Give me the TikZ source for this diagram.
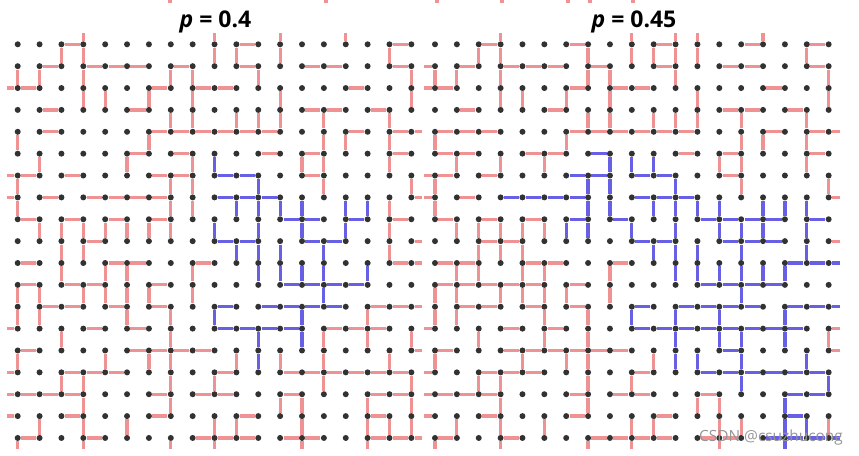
\documentclass[tikz,border=0pt]{standalone}
\usepackage{fontspec}
\setmainfont{Open Sans}

\definecolor{edgered}{RGB}{238,146,148}
\definecolor{edgeblue}{RGB}{104,96,228}
\definecolor{dotgray}{RGB}{50,50,50}
\definecolor{markgray}{RGB}{150,150,150}

\begin{document}
\begin{tikzpicture}[
    x=0.5pt, y=-0.5pt,
    dot/.style   = {circle, fill=dotgray, inner sep=0pt, minimum size=3pt},
    redge/.style = {draw=edgered, line width=1.6pt},
    bedge/.style = {draw=edgeblue, line width=1.6pt},
    title/.style = {font=\fontsize{11.5}{14}\selectfont\bfseries, anchor=base},
    wmark/.style = {font=\fontsize{7.7}{9}\selectfont, text=markgray}
]
\useasboundingbox (0,0) rectangle (859,456);

% Lattice sites (the outer ring is the cut edge of each panel)
\foreach \P/\xo in {L/17.7, R/435}{
  \foreach \c in {-1,...,19}{
    \foreach \r in {-1,...,19}{
      \pgfmathsetmacro\px{\xo+21.87*max(-0.5,min(18.5,\c))}
      \pgfmathsetmacro\py{44.3+21.87*max(-0.5,min(18.5,\r))}
      \pgfmathtruncatemacro\inside{(\c>=0)&&(\c<=18)&&(\r>=0)&&(\r<=18)}
      \ifnum\inside=1
        \node[dot] (\P-c\c-r\r) at (\px,\py) {};
      \else
        \coordinate (\P-c\c-r\r) at (\px,\py);
      \fi
    }
  }
}

% Left panel, horizontal bonds (row/columns)
\foreach \r/\cs in {0/{2,10,17}, 1/{1,3,4,5,7,10,13,14,17}, 2/{-1,0,6,8,9,15},
    3/{1,5,13,14,16}, 4/{1,6,7,8,9,10,11,15,17,18}, 5/{5,7,11,13,17},
    6/{-1,0,2,6,7,13}, 7/{-1,1,3,4,5,6,18}, 8/{0,2,4,6,17}, 9/{3,18},
    10/{0,4,5,8,17,18}, 11/{0,2,3,6}, 12/{1,2,4,6,16,17,18},
    13/{-1,3,5,14,15,16}, 14/{0,5,6,7,8,18},
    15/{-1,2,3,4,9,12,13,14,15,16,17}, 16/{-1,0,1,2,6,8,9,12,16,17},
    17/{-1,2,6,10,16}, 18/{0,3,8,9,10,12,13,16,17,18}}{
  \foreach \c in \cs {
    \pgfmathtruncatemacro\n{\c+1}
    \draw[redge] (L-c\c-r\r) -- (L-c\n-r\r);
  }
}
\foreach \r/\cs in {6/{9,10}, 7/{9,10,11}, 8/{12,13,15}, 9/{9,10,13,14},
    11/{12,13,14,15}, 12/{9,11,12,13,14}, 13/{9,10,11,12}}{
  \foreach \c in \cs {
    \pgfmathtruncatemacro\n{\c+1}
    \draw[bedge] (L-c\c-r\r) -- (L-c\n-r\r);
  }
}

% Left panel, vertical bonds (column/rows)
\foreach \c/\rs in {0/{1,4,6,7,11,12,14,18}, 1/{1,5,8,11,12,17},
    2/{0,8,9,10,13,15}, 3/{-1,0,1,2,8,9,11,15,16,17,18}, 4/{2,8,10,11,14},
    5/{5,8,10,11,12,17}, 6/{2,4,8,11,14}, 7/{1,3,6,7,8,12,13,14,15,16,18},
    8/{1,2,3,5,6,7,10,11}, 9/{-1,0,15,17,18}, 10/{0,3,14,17}, 11/{1,3},
    12/{-1,0,2,3,14,16}, 13/{5,16,17,18}, 14/{3,4,5,6,13,14,15},
    15/{-1,4}, 16/{12,13,16,17,18}, 17/{0,3,4,5,7,8,9,14,17},
    18/{1,2,6,13,15,16,17}}{
  \foreach \r in \rs {
    \pgfmathtruncatemacro\n{\r+1}
    \draw[redge] (L-c\c-r\r) -- (L-c\c-r\n);
  }
}
\foreach \c/\rs in {9/{5,8,12}, 10/{7,9}, 11/{6,7,8,9,10,13,14}, 12/{7,9,10},
    13/{7,8,10,12,13}, 14/{9,10,11}, 15/{7,8}, 16/{7,10}}{
  \foreach \r in \rs {
    \pgfmathtruncatemacro\n{\r+1}
    \draw[bedge] (L-c\c-r\r) -- (L-c\c-r\n);
  }
}

% Right panel, horizontal bonds
\foreach \r/\cs in {0/{2,6,10,14,17}, 1/{-1,1,3,4,5,7,10,13,14,17},
    2/{-1,0,6,8,9,15}, 3/{1,5,13,14,16}, 4/{0,1,2,6,7,8,9,10,11,15,17,18},
    5/{0,1,4,5,11,13,17}, 6/{-1,0,2,13}, 7/{-1,1,18}, 8/{0,2,4},
    9/{2,3,18}, 10/{0,1,4,5,8}, 11/{0,1,2,3,4,6}, 12/{1,2,4,6},
    13/{-1,3,5,18}, 14/{0,3,4,5,6,7,8,18}, 15/{-1,2,3,4,9},
    16/{-1,0,1,2,6,8,9,12}, 17/{-1,2,6,10}, 18/{0,3,7,8,9,10,12,13}}{
  \foreach \c in \cs {
    \pgfmathtruncatemacro\n{\c+1}
    \draw[redge] (R-c\c-r\r) -- (R-c\n-r\r);
  }
}
\foreach \r/\cs in {5/{7}, 6/{6,7,9,10}, 7/{3,4,5,6,9,10,11},
    8/{6,8,12,13,14,15,17}, 9/{9,10,13,14,15}, 10/{16,17,18},
    11/{12,13,14,15}, 12/{9,11,12,13,14,16,17,18},
    13/{9,10,11,12,13,14,15,16}, 14/{13}, 15/{12,13,14,15,16,17},
    16/{16,17}, 17/{16}, 18/{15,16,17,18}}{
  \foreach \c in \cs {
    \pgfmathtruncatemacro\n{\c+1}
    \draw[bedge] (R-c\c-r\r) -- (R-c\n-r\r);
  }
}

% Right panel, vertical bonds
\foreach \c/\rs in {0/{1,4,6,7,11,12,14,18}, 1/{1,5,8,10,11,12,17},
    2/{0,8,9,10,13,15}, 3/{-1,0,1,2,5,8,9,11,15,16,17,18},
    4/{2,8,9,10,11,14}, 5/{5,8,10,11,12,13,17}, 6/{2,4,11,14},
    7/{0,1,3,12,13,14,15,16,18}, 8/{1,2,3,10,11}, 9/{-1,0,15,17,18},
    10/{0,3,14,17}, 11/{-1,0,1,3}, 12/{-1,0,2,3,16}, 13/{5,16,17,18},
    14/{3,4,5,6,17}, 15/{-1,4}, 17/{0,3,4,5}, 18/{1,2,6,13,17}}{
  \foreach \r in \rs {
    \pgfmathtruncatemacro\n{\r+1}
    \draw[redge] (R-c\c-r\r) -- (R-c\c-r\n);
  }
}
\foreach \c/\rs in {6/{8}, 7/{6,7,8}, 8/{5,6,7}, 9/{5,8,12}, 10/{5,7,9},
    11/{6,7,8,9,10,12,13,14}, 12/{7,9,10,14}, 13/{7,8,10,12,13},
    14/{8,9,10,11,13,14,15}, 15/{7,8,10}, 16/{7,10,12,13,16,17,18},
    17/{7,8,9,14,17}, 18/{15}}{
  \foreach \r in \rs {
    \pgfmathtruncatemacro\n{\r+1}
    \draw[bedge] (R-c\c-r\r) -- (R-c\c-r\n);
  }
}

% Ends of bonds from the figure above
\foreach \x [count=\i] in {170,326,437,502,568,590,633}{
  \coordinate (top\i) at (\x,0);
  \draw[redge] (top\i) -- ++(0,2.5);
}

% Titles and watermark
\node[title] (pL) at (215.5,27) {{\itshape p} = 0.4};
\node[title] (pR) at (634,27) {{\itshape p} = 0.45};
\node[wmark] (csdn) at (771,437) {CSDN @csuzhucong};

\end{tikzpicture}
\end{document}
